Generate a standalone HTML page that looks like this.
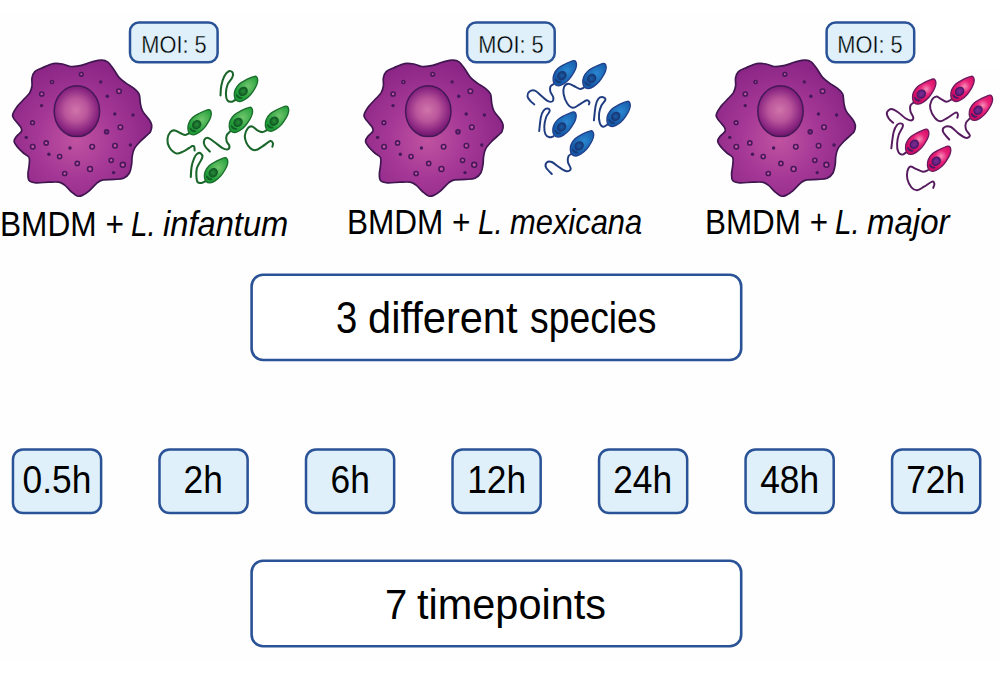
<!DOCTYPE html>
<html><head><meta charset="utf-8">
<style>
html,body{margin:0;padding:0;}
body{width:1000px;height:697px;position:relative;overflow:hidden;background:#fff;font-family:"Liberation Sans",sans-serif;color:#000;}
#bg{position:absolute;left:0;top:13px;width:1000px;height:647px;background:#fefefe;}
.c{position:absolute;white-space:nowrap;line-height:1;display:flex;justify-content:center;}
.c span{display:inline-block;}
.t{position:absolute;white-space:nowrap;line-height:1;transform-origin:0 0;}
svg{position:absolute;left:0;top:0;}
</style></head><body>
<div id="bg"></div>
<div style="position:absolute;left:920px;top:13px;width:80px;height:57px;background:#fff"></div>
<svg width="1000" height="697" style="position:absolute;left:0;top:0"><rect x="251.6" y="274.8" width="489.6" height="85.2" rx="11.5" fill="#fff" stroke="#2a5296" stroke-width="2.6"/><rect x="251.6" y="560.8" width="489.6" height="85.5" rx="11.5" fill="#fff" stroke="#2a5296" stroke-width="2.6"/><rect x="12.96" y="449.5" width="88.15" height="63.5" rx="10" fill="#DFF0FB" stroke="#2a5296" stroke-width="2.5"/><rect x="159.48" y="449.5" width="88.15" height="63.5" rx="10" fill="#DFF0FB" stroke="#2a5296" stroke-width="2.5"/><rect x="306.00" y="449.5" width="88.15" height="63.5" rx="10" fill="#DFF0FB" stroke="#2a5296" stroke-width="2.5"/><rect x="452.52" y="449.5" width="88.15" height="63.5" rx="10" fill="#DFF0FB" stroke="#2a5296" stroke-width="2.5"/><rect x="599.04" y="449.5" width="88.15" height="63.5" rx="10" fill="#DFF0FB" stroke="#2a5296" stroke-width="2.5"/><rect x="745.56" y="449.5" width="88.15" height="63.5" rx="10" fill="#DFF0FB" stroke="#2a5296" stroke-width="2.5"/><rect x="892.08" y="449.5" width="88.15" height="63.5" rx="10" fill="#DFF0FB" stroke="#2a5296" stroke-width="2.5"/><rect x="130.0" y="22.4" width="87.6" height="39.8" rx="9" fill="#DFF0FB" stroke="#2a5296" stroke-width="2.5"/><rect x="467.1" y="22.4" width="87.6" height="39.8" rx="9" fill="#DFF0FB" stroke="#2a5296" stroke-width="2.5"/><rect x="826.6" y="22.4" width="87.6" height="39.8" rx="9" fill="#DFF0FB" stroke="#2a5296" stroke-width="2.5"/></svg>
<svg width="1000" height="697" viewBox="0 0 1000 697" style="position:absolute;left:0;top:0">
<defs>
<radialGradient id="cyt" gradientUnits="userSpaceOnUse" cx="76" cy="140" r="78">
 <stop offset="0" stop-color="#c052a0"/><stop offset="0.5" stop-color="#a53896"/><stop offset="1" stop-color="#8c2686"/></radialGradient>
<radialGradient id="nuc" gradientUnits="userSpaceOnUse" cx="76" cy="110" r="25">
 <stop offset="0" stop-color="#d074aa"/><stop offset="0.45" stop-color="#b9569b"/><stop offset="0.85" stop-color="#8a2681"/><stop offset="1" stop-color="#741a70"/></radialGradient>
<radialGradient id="bg_g" gradientUnits="userSpaceOnUse" cx="5" cy="-5" r="13">
 <stop offset="0" stop-color="#70c66c"/><stop offset="1" stop-color="#1e9c38"/></radialGradient>
<radialGradient id="ng_g" gradientUnits="userSpaceOnUse" cx="0" cy="0" r="3.4">
 <stop offset="0" stop-color="#279038"/><stop offset="1" stop-color="#166528"/></radialGradient>
<radialGradient id="bg_b" gradientUnits="userSpaceOnUse" cx="5" cy="-5" r="13">
 <stop offset="0" stop-color="#2a86d0"/><stop offset="1" stop-color="#155aa8"/></radialGradient>
<radialGradient id="ng_b" gradientUnits="userSpaceOnUse" cx="0" cy="0" r="3.4">
 <stop offset="0" stop-color="#1a5ea8"/><stop offset="1" stop-color="#173f80"/></radialGradient>
<radialGradient id="bg_p" gradientUnits="userSpaceOnUse" cx="5" cy="-5" r="13">
 <stop offset="0" stop-color="#f58cb8"/><stop offset="0.45" stop-color="#e82278"/><stop offset="1" stop-color="#d20c64"/></radialGradient>
<radialGradient id="ng_p" gradientUnits="userSpaceOnUse" cx="0" cy="0" r="3.4">
 <stop offset="0" stop-color="#7e2a92"/><stop offset="1" stop-color="#62207e"/></radialGradient>
<g id="body_g"><path d="M13.36 -14.72 C13.84 -14.14 14.49 -12.73 14.61 -11.57 C14.72 -10.41 14.45 -9.09 14.03 -7.75 C13.62 -6.42 13.19 -5.37 12.12 -3.55 C11.06 -1.74 9.34 1.19 7.63 3.13 C5.93 5.08 3.69 6.94 1.90 8.10 C0.12 9.26 -1.55 10.01 -3.06 10.11 C-4.57 10.20 -6.21 9.66 -7.17 8.67 C-8.12 7.69 -8.66 5.89 -8.79 4.18 C-8.92 2.48 -8.76 0.38 -7.93 -1.54 C-7.10 -3.47 -5.61 -5.72 -3.83 -7.37 C-2.04 -9.03 0.58 -10.32 2.76 -11.48 C4.94 -12.64 7.76 -13.74 9.26 -14.34 C10.75 -14.95 11.06 -15.04 11.74 -15.11 C12.43 -15.17 12.89 -15.31 13.36 -14.72 Z" fill="url(#bg_g)" stroke="#1a6c2c" stroke-width="1.3"/><ellipse cx="0" cy="0" rx="4.3" ry="3.7" transform="rotate(-45)" fill="url(#ng_g)" stroke="#135d26" stroke-width="1.4"/><path d="M-6.6 3.4 Q-5.2 7.6 -1.4 6.4 Q-4.6 6.2 -6.6 3.4 Z" fill="#145e27" stroke="#145e27" stroke-width="1.35" stroke-linejoin="round"/></g><g id="body_b"><path d="M13.36 -14.72 C13.84 -14.14 14.49 -12.73 14.61 -11.57 C14.72 -10.41 14.45 -9.09 14.03 -7.75 C13.62 -6.42 13.19 -5.37 12.12 -3.55 C11.06 -1.74 9.34 1.19 7.63 3.13 C5.93 5.08 3.69 6.94 1.90 8.10 C0.12 9.26 -1.55 10.01 -3.06 10.11 C-4.57 10.20 -6.21 9.66 -7.17 8.67 C-8.12 7.69 -8.66 5.89 -8.79 4.18 C-8.92 2.48 -8.76 0.38 -7.93 -1.54 C-7.10 -3.47 -5.61 -5.72 -3.83 -7.37 C-2.04 -9.03 0.58 -10.32 2.76 -11.48 C4.94 -12.64 7.76 -13.74 9.26 -14.34 C10.75 -14.95 11.06 -15.04 11.74 -15.11 C12.43 -15.17 12.89 -15.31 13.36 -14.72 Z" fill="url(#bg_b)" stroke="#22408a" stroke-width="1.3"/><ellipse cx="0" cy="0" rx="4.3" ry="3.7" transform="rotate(-45)" fill="url(#ng_b)" stroke="#1a3a78" stroke-width="1.4"/><path d="M-6.6 3.4 Q-5.2 7.6 -1.4 6.4 Q-4.6 6.2 -6.6 3.4 Z" fill="#1a3a78" stroke="#1a3a78" stroke-width="1.35" stroke-linejoin="round"/></g><g id="body_p"><path d="M13.36 -14.72 C13.84 -14.14 14.49 -12.73 14.61 -11.57 C14.72 -10.41 14.45 -9.09 14.03 -7.75 C13.62 -6.42 13.19 -5.37 12.12 -3.55 C11.06 -1.74 9.34 1.19 7.63 3.13 C5.93 5.08 3.69 6.94 1.90 8.10 C0.12 9.26 -1.55 10.01 -3.06 10.11 C-4.57 10.20 -6.21 9.66 -7.17 8.67 C-8.12 7.69 -8.66 5.89 -8.79 4.18 C-8.92 2.48 -8.76 0.38 -7.93 -1.54 C-7.10 -3.47 -5.61 -5.72 -3.83 -7.37 C-2.04 -9.03 0.58 -10.32 2.76 -11.48 C4.94 -12.64 7.76 -13.74 9.26 -14.34 C10.75 -14.95 11.06 -15.04 11.74 -15.11 C12.43 -15.17 12.89 -15.31 13.36 -14.72 Z" fill="url(#bg_p)" stroke="#6a1a5e" stroke-width="1.3"/><ellipse cx="0" cy="0" rx="4.3" ry="3.7" transform="rotate(-45)" fill="url(#ng_p)" stroke="#4a1a6a" stroke-width="1.4"/><path d="M-6.6 3.4 Q-5.2 7.6 -1.4 6.4 Q-4.6 6.2 -6.6 3.4 Z" fill="#4a1a6a" stroke="#4a1a6a" stroke-width="1.35" stroke-linejoin="round"/></g>
<g id="mac"><path d="M32.00 78.00 C32.47 75.60 32.98 73.33 34.80 71.60 C36.62 69.87 39.83 68.93 42.90 67.60 C45.97 66.27 49.95 64.20 53.20 63.60 C56.45 63.00 59.53 63.52 62.40 64.00 C65.27 64.48 67.72 66.18 70.40 66.50 C73.08 66.82 75.75 66.38 78.50 65.90 C81.25 65.42 84.35 64.37 86.90 63.60 C89.45 62.83 91.32 61.87 93.80 61.30 C96.28 60.73 99.52 60.10 101.80 60.20 C104.08 60.30 105.58 60.47 107.50 61.90 C109.42 63.33 111.38 66.22 113.30 68.80 C115.22 71.38 116.90 75.02 119.00 77.40 C121.10 79.78 123.42 81.28 125.90 83.10 C128.38 84.92 131.70 86.48 133.90 88.30 C136.10 90.12 138.03 91.52 139.10 94.00 C140.17 96.48 139.72 100.33 140.30 103.20 C140.88 106.07 141.17 108.52 142.60 111.20 C144.03 113.88 147.38 117.00 148.90 119.30 C150.42 121.60 151.42 122.97 151.70 125.00 C151.98 127.03 151.27 129.90 150.60 131.50 C149.93 133.10 149.33 133.03 147.70 134.60 C146.07 136.17 143.00 138.60 140.80 140.90 C138.60 143.20 135.93 145.82 134.50 148.40 C133.07 150.98 132.68 153.73 132.20 156.40 C131.72 159.07 132.07 161.63 131.60 164.40 C131.13 167.17 130.73 170.70 129.40 173.00 C128.07 175.30 126.10 177.13 123.60 178.20 C121.10 179.27 117.83 179.12 114.40 179.40 C110.97 179.68 105.87 179.33 103.00 179.90 C100.13 180.47 99.50 180.98 97.20 182.80 C94.90 184.62 91.68 188.70 89.20 190.80 C86.72 192.90 84.28 194.53 82.30 195.40 C80.32 196.27 79.08 196.57 77.30 196.00 C75.52 195.43 73.70 193.82 71.60 192.00 C69.50 190.18 66.82 186.73 64.70 185.10 C62.58 183.47 61.58 182.68 58.90 182.20 C56.22 181.72 52.42 182.10 48.60 182.20 C44.78 182.30 39.25 183.08 36.00 182.80 C32.75 182.52 30.43 182.03 29.10 180.50 C27.77 178.97 28.00 176.08 28.00 173.60 C28.00 171.12 28.92 168.28 29.10 165.60 C29.28 162.92 30.05 159.60 29.10 157.50 C28.15 155.40 25.32 154.72 23.40 153.00 C21.48 151.28 19.15 149.15 17.60 147.20 C16.05 145.25 14.23 143.17 14.10 141.30 C13.97 139.43 15.58 137.63 16.80 136.00 C18.02 134.37 20.70 132.90 21.40 131.50 C22.10 130.10 21.70 129.05 21.00 127.60 C20.30 126.15 18.60 124.80 17.20 122.80 C15.80 120.80 12.60 118.30 12.60 115.60 C12.60 112.90 15.40 109.23 17.20 106.60 C19.00 103.97 21.32 102.08 23.40 99.80 C25.48 97.52 28.27 95.20 29.70 92.90 C31.13 90.60 31.62 88.48 32.00 86.00 C32.38 83.52 31.53 80.40 32.00 78.00 Z" fill="url(#cyt)" stroke="#3f1650" stroke-width="1.7"/>
<ellipse cx="76.9" cy="111.2" rx="22.7" ry="25.4" fill="url(#nuc)" stroke="#441858" stroke-width="1.5"/>
<circle cx="52.0" cy="82.0" r="1.55" fill="#c651a3" stroke="#46195a" stroke-width="1.6"/>
<circle cx="41.7" cy="94.0" r="2.05" fill="#c651a3" stroke="#46195a" stroke-width="1.6"/>
<circle cx="32.5" cy="122.7" r="1.85" fill="#c651a3" stroke="#46195a" stroke-width="1.6"/>
<circle cx="81.3" cy="74.3" r="1.85" fill="#c651a3" stroke="#46195a" stroke-width="1.6"/>
<circle cx="119.0" cy="91.2" r="2.25" fill="#c651a3" stroke="#46195a" stroke-width="1.6"/>
<circle cx="120.4" cy="127.2" r="2.25" fill="#c651a3" stroke="#46195a" stroke-width="1.6"/>
<circle cx="92.2" cy="146.8" r="2.25" fill="#c651a3" stroke="#46195a" stroke-width="1.6"/>
<circle cx="115.0" cy="145.8" r="2.25" fill="#c651a3" stroke="#46195a" stroke-width="1.6"/>
<circle cx="111.2" cy="160.3" r="2.05" fill="#c651a3" stroke="#46195a" stroke-width="1.6"/>
<circle cx="122.8" cy="164.8" r="2.45" fill="#c651a3" stroke="#46195a" stroke-width="1.6"/>
<circle cx="90.0" cy="169.0" r="2.45" fill="#c651a3" stroke="#46195a" stroke-width="1.6"/>
<circle cx="32.7" cy="146.8" r="2.25" fill="#c651a3" stroke="#46195a" stroke-width="1.6"/>
<circle cx="46.2" cy="142.9" r="2.05" fill="#c651a3" stroke="#46195a" stroke-width="1.6"/>
<circle cx="59.6" cy="156.6" r="2.05" fill="#c651a3" stroke="#46195a" stroke-width="1.6"/>
<circle cx="77.3" cy="163.4" r="2.05" fill="#c651a3" stroke="#46195a" stroke-width="1.6"/>
<circle cx="64.7" cy="173.5" r="2.05" fill="#c651a3" stroke="#46195a" stroke-width="1.6"/>
<circle cx="106.6" cy="131.8" r="2.0" fill="#7a2a7e" stroke="#46195a" stroke-width="1.6"/>
<circle cx="41.6" cy="105.6" r="1.7" fill="#44185a"/>
<circle cx="100.7" cy="81.9" r="1.7" fill="#44185a"/>
<circle cx="107.3" cy="96.3" r="1.7" fill="#44185a"/>
<circle cx="114.8" cy="114.0" r="1.7" fill="#44185a"/>
<circle cx="133.0" cy="115.0" r="1.7" fill="#44185a"/>
<circle cx="130.4" cy="145.0" r="1.7" fill="#44185a"/>
<circle cx="113.6" cy="172.6" r="1.7" fill="#44185a"/>
<circle cx="26.2" cy="137.4" r="1.7" fill="#44185a"/>
<circle cx="48.9" cy="154.3" r="1.7" fill="#44185a"/>
<circle cx="70.0" cy="148.0" r="1.7" fill="#44185a"/></g>
</defs>
<use href="#mac"/>
<use href="#mac" transform="translate(351.4 0)"/>
<use href="#mac" transform="translate(703.6 0)"/>
<path d="M236.20 99.40 C235.53 99.78 233.63 101.50 232.20 101.70 C230.77 101.90 228.65 101.93 227.60 100.60 C226.55 99.27 225.90 96.38 225.90 93.70 C225.90 91.02 226.55 87.18 227.60 84.50 C228.65 81.82 231.33 79.52 232.20 77.60 C233.07 75.68 233.37 74.05 232.80 73.00 C232.23 71.95 230.23 70.72 228.80 71.30 C227.37 71.88 225.45 74.10 224.20 76.50 C222.95 78.90 221.92 82.55 221.30 85.70 C220.68 88.85 220.63 93.78 220.50 95.40" fill="none" stroke="#19652a" stroke-width="2.05" stroke-linecap="round"/>
<path d="M189.30 133.30 C188.63 133.58 186.73 135.00 185.30 135.00 C183.87 135.00 182.43 134.07 180.70 133.30 C178.97 132.53 176.63 130.60 174.90 130.40 C173.17 130.20 171.53 130.67 170.30 132.10 C169.07 133.53 167.68 136.50 167.50 139.00 C167.32 141.50 167.77 144.70 169.20 147.10 C170.63 149.50 173.80 152.65 176.10 153.40 C178.40 154.15 180.82 152.50 183.00 151.60 C185.18 150.70 187.65 148.92 189.20 148.00 C190.75 147.08 191.47 146.33 192.30 146.10 C193.13 145.87 193.82 145.87 194.20 146.60 C194.58 147.33 194.53 149.85 194.60 150.50" fill="none" stroke="#19652a" stroke-width="2.05" stroke-linecap="round"/>
<path d="M230.00 131.60 C229.43 132.27 227.17 133.98 226.60 135.60 C226.03 137.22 226.13 139.58 226.60 141.30 C227.07 143.02 229.22 144.55 229.40 145.90 C229.58 147.25 228.83 149.02 227.70 149.40 C226.57 149.78 224.70 149.35 222.60 148.20 C220.50 147.05 217.50 144.22 215.10 142.50 C212.70 140.78 210.02 138.28 208.20 137.90 C206.38 137.52 204.77 138.87 204.20 140.20 C203.63 141.53 203.85 144.00 204.80 145.90 C205.75 147.80 209.05 150.65 209.90 151.60" fill="none" stroke="#19652a" stroke-width="2.05" stroke-linecap="round"/>
<path d="M267.30 129.90 C266.50 130.27 264.15 132.03 262.50 132.10 C260.85 132.17 259.12 131.23 257.40 130.30 C255.68 129.37 253.78 126.85 252.20 126.50 C250.62 126.15 249.12 126.70 247.90 128.20 C246.68 129.70 245.18 133.13 244.90 135.50 C244.62 137.87 245.27 140.25 246.20 142.40 C247.13 144.55 248.92 147.12 250.50 148.40 C252.08 149.68 253.70 150.45 255.70 150.10 C257.70 149.75 260.07 147.80 262.50 146.30 C264.93 144.80 268.57 141.62 270.30 141.10 C272.03 140.58 272.55 142.27 272.90 143.20 C273.25 144.13 272.48 146.12 272.40 146.70" fill="none" stroke="#19652a" stroke-width="2.05" stroke-linecap="round"/>
<path d="M205.40 181.30 C204.75 181.58 202.80 182.85 201.50 183.00 C200.20 183.15 198.45 183.33 197.60 182.20 C196.75 181.07 196.53 178.50 196.40 176.20 C196.27 173.90 196.23 170.70 196.80 168.40 C197.37 166.10 198.87 164.27 199.80 162.40 C200.73 160.53 202.25 158.72 202.40 157.20 C202.55 155.68 201.57 153.87 200.70 153.30 C199.83 152.73 198.28 153.00 197.20 153.80 C196.12 154.60 195.13 155.95 194.20 158.10 C193.27 160.25 192.17 163.55 191.60 166.70 C191.03 169.85 190.93 175.28 190.80 177.00" fill="none" stroke="#19652a" stroke-width="2.05" stroke-linecap="round"/>
<g transform="translate(243.1 91.4)"><use href="#body_g"/></g>
<g transform="translate(196.7 124.7)"><use href="#body_g"/></g>
<g transform="translate(238.0 122.4)"><use href="#body_g"/></g>
<g transform="translate(274.1 121.2)"><use href="#body_g"/></g>
<g transform="translate(213.2 172.8)"><use href="#body_g"/></g>
<path d="M553.30 84.30 C552.82 84.68 550.88 85.37 550.40 86.60 C549.92 87.83 549.92 89.88 550.40 91.70 C550.88 93.52 553.02 95.87 553.30 97.50 C553.58 99.13 553.07 100.93 552.10 101.50 C551.13 102.07 549.22 101.77 547.50 100.90 C545.78 100.03 543.90 98.02 541.80 96.30 C539.70 94.58 537.00 91.37 534.90 90.60 C532.80 89.83 530.43 90.75 529.20 91.70 C527.97 92.65 527.32 94.77 527.50 96.30 C527.68 97.83 529.17 99.55 530.30 100.90 C531.43 102.25 533.63 103.82 534.30 104.40" fill="none" stroke="#203c80" stroke-width="1.95" stroke-linecap="round"/>
<path d="M583.70 87.70 C583.03 87.90 581.33 89.18 579.70 88.90 C578.07 88.62 575.82 86.87 573.90 86.00 C571.98 85.13 569.82 83.60 568.20 83.70 C566.58 83.80 564.97 84.88 564.20 86.60 C563.43 88.32 563.12 91.23 563.60 94.00 C564.08 96.77 565.57 100.90 567.10 103.20 C568.63 105.50 570.70 107.60 572.80 107.80 C574.90 108.00 577.40 105.65 579.70 104.40 C582.00 103.15 584.98 100.68 586.60 100.30 C588.22 99.92 589.02 101.42 589.40 102.10 C589.78 102.78 588.98 104.02 588.90 104.40" fill="none" stroke="#203c80" stroke-width="1.95" stroke-linecap="round"/>
<path d="M553.50 136.20 C552.83 136.38 550.83 137.60 549.50 137.30 C548.17 137.00 546.37 136.22 545.50 134.40 C544.63 132.58 544.20 129.27 544.30 126.40 C544.40 123.53 545.23 119.68 546.10 117.20 C546.97 114.72 549.12 112.93 549.50 111.50 C549.88 110.07 549.35 108.80 548.40 108.60 C547.45 108.40 545.05 108.87 543.80 110.30 C542.55 111.73 541.67 113.75 540.90 117.20 C540.13 120.65 539.48 128.70 539.20 131.00" fill="none" stroke="#203c80" stroke-width="1.95" stroke-linecap="round"/>
<path d="M571.30 153.90 C570.83 154.28 569.07 154.85 568.50 156.20 C567.93 157.55 567.53 159.88 567.90 162.00 C568.27 164.12 570.90 167.37 570.70 168.90 C570.50 170.43 568.52 171.40 566.70 171.20 C564.88 171.00 562.28 169.23 559.80 167.70 C557.32 166.17 554.00 162.85 551.80 162.00 C549.60 161.15 547.55 161.65 546.60 162.60 C545.65 163.55 545.23 165.80 546.10 167.70 C546.97 169.60 550.85 172.95 551.80 174.00" fill="none" stroke="#203c80" stroke-width="1.95" stroke-linecap="round"/>
<path d="M607.70 124.40 C606.93 124.78 604.43 126.98 603.10 126.70 C601.77 126.42 600.37 124.90 599.70 122.70 C599.03 120.50 598.82 116.37 599.10 113.50 C599.38 110.63 600.35 107.78 601.40 105.50 C602.45 103.22 605.12 101.18 605.40 99.80 C605.68 98.42 604.25 97.40 603.10 97.20 C601.95 97.00 599.73 97.22 598.50 98.60 C597.27 99.98 596.47 101.87 595.70 105.50 C594.93 109.13 594.20 117.92 593.90 120.40" fill="none" stroke="#203c80" stroke-width="1.95" stroke-linecap="round"/>
<g transform="translate(561.9 75.7)"><use href="#body_b"/></g>
<g transform="translate(591.6 78.5)"><use href="#body_b"/></g>
<g transform="translate(561.6 127.0)"><use href="#body_b"/></g>
<g transform="translate(579.1 145.9)"><use href="#body_b"/></g>
<g transform="translate(615.7 116.4)"><use href="#body_b"/></g>
<path d="M913.30 102.70 C912.82 103.18 910.88 104.17 910.40 105.60 C909.92 107.03 909.92 109.30 910.40 111.30 C910.88 113.30 913.20 116.07 913.30 117.60 C913.40 119.13 912.33 120.40 911.00 120.50 C909.67 120.60 907.40 119.53 905.30 118.20 C903.20 116.87 900.70 114.03 898.40 112.50 C896.10 110.97 893.42 109.00 891.50 109.00 C889.58 109.00 887.38 110.97 886.90 112.50 C886.42 114.03 887.55 116.48 888.60 118.20 C889.65 119.92 892.43 122.03 893.20 122.80" fill="none" stroke="#561b5e" stroke-width="1.95" stroke-linecap="round"/>
<path d="M951.60 99.40 C950.73 99.78 948.22 101.78 946.40 101.70 C944.58 101.62 942.42 99.75 940.70 98.90 C938.98 98.05 937.63 96.32 936.10 96.60 C934.57 96.88 932.47 98.60 931.50 100.60 C930.53 102.60 929.73 105.73 930.30 108.60 C930.87 111.47 933.17 115.70 934.90 117.80 C936.63 119.90 938.60 121.20 940.70 121.20 C942.80 121.20 945.02 119.23 947.50 117.80 C949.98 116.37 953.87 113.17 955.60 112.60 C957.33 112.03 957.62 113.53 957.90 114.40 C958.18 115.27 957.40 117.23 957.30 117.80" fill="none" stroke="#561b5e" stroke-width="1.95" stroke-linecap="round"/>
<path d="M906.20 152.30 C905.53 152.68 903.53 154.70 902.20 154.60 C900.87 154.50 899.05 153.52 898.20 151.70 C897.35 149.88 897.00 146.57 897.10 143.70 C897.20 140.83 897.85 137.37 898.80 134.50 C899.75 131.63 902.33 128.32 902.80 126.50 C903.27 124.68 902.55 123.88 901.60 123.60 C900.65 123.32 898.43 123.37 897.10 124.80 C895.77 126.23 894.57 128.28 893.60 132.20 C892.63 136.12 891.68 145.62 891.30 148.30" fill="none" stroke="#561b5e" stroke-width="1.95" stroke-linecap="round"/>
<path d="M969.40 118.90 C968.82 119.58 966.48 121.27 965.90 123.00 C965.32 124.73 965.23 127.20 965.90 129.30 C966.57 131.40 969.90 134.17 969.90 135.60 C969.90 137.03 967.72 138.18 965.90 137.90 C964.08 137.62 961.48 135.72 959.00 133.90 C956.52 132.08 953.38 128.15 951.00 127.00 C948.62 125.85 946.03 126.23 944.70 127.00 C943.37 127.77 942.23 129.50 943.00 131.60 C943.77 133.70 948.25 138.27 949.30 139.60" fill="none" stroke="#561b5e" stroke-width="1.95" stroke-linecap="round"/>
<path d="M928.00 170.10 C927.15 170.38 924.90 172.00 922.90 171.80 C920.90 171.60 918.10 169.77 916.00 168.90 C913.90 168.03 911.73 166.22 910.30 166.60 C908.87 166.98 907.88 169.08 907.40 171.20 C906.92 173.32 906.73 176.62 907.40 179.30 C908.07 181.98 909.78 185.48 911.40 187.30 C913.02 189.12 915.00 190.30 917.10 190.20 C919.20 190.10 921.50 188.13 924.00 186.70 C926.50 185.27 930.37 182.07 932.10 181.60 C933.83 181.13 934.22 182.85 934.40 183.90 C934.58 184.95 933.40 187.23 933.20 187.90" fill="none" stroke="#561b5e" stroke-width="1.95" stroke-linecap="round"/>
<g transform="translate(921.3 94.1)"><use href="#body_p"/></g>
<g transform="translate(959.6 91.4)"><use href="#body_p"/></g>
<g transform="translate(914.3 144.3)"><use href="#body_p"/></g>
<g transform="translate(978.0 110.3)"><use href="#body_p"/></g>
<g transform="translate(936.2 161.2)"><use href="#body_p"/></g>
</svg>

<div class="c" style="left:12.96px;width:88.15px;top:460.5px;font-size:38px;"><span style="transform:scaleX(0.93)">0.5h</span></div>
<div class="c" style="left:159.48px;width:88.15px;top:460.5px;font-size:38px;"><span style="transform:scaleX(0.93)">2h</span></div>
<div class="c" style="left:306.00px;width:88.15px;top:460.5px;font-size:38px;"><span style="transform:scaleX(0.93)">6h</span></div>
<div class="c" style="left:452.52px;width:88.15px;top:460.5px;font-size:38px;"><span style="transform:scaleX(0.93)">12h</span></div>
<div class="c" style="left:599.04px;width:88.15px;top:460.5px;font-size:38px;"><span style="transform:scaleX(0.93)">24h</span></div>
<div class="c" style="left:745.56px;width:88.15px;top:460.5px;font-size:38px;"><span style="transform:scaleX(0.93)">48h</span></div>
<div class="c" style="left:892.08px;width:88.15px;top:460.5px;font-size:38px;"><span style="transform:scaleX(0.93)">72h</span></div>

<div class="c" style="left:130px;width:87.6px;top:33px;font-size:24px;"><span style="transform:scaleX(0.908);-webkit-text-stroke:0.35px #DFF0FB">MOI: 5</span></div>
<div class="c" style="left:467.1px;width:87.6px;top:33px;font-size:24px;"><span style="transform:scaleX(0.908);-webkit-text-stroke:0.35px #DFF0FB">MOI: 5</span></div>
<div class="c" style="left:826.6px;width:87.6px;top:33px;font-size:24px;"><span style="transform:scaleX(0.908);-webkit-text-stroke:0.35px #DFF0FB">MOI: 5</span></div>


<div class="t" style="left:0.21px;top:206.60px;font-size:34.5px;transform:scaleX(0.9168)">BMDM +</div>
<div class="t" style="left:131.34px;top:206.60px;font-size:34.5px;font-style:italic;transform:scaleX(0.8600)">L.</div>
<div class="t" style="left:163.04px;top:206.60px;font-size:34.5px;font-style:italic;transform:scaleX(0.9470)">infantum</div>
<div class="t" style="left:346.62px;top:204.70px;font-size:34.5px;transform:scaleX(0.9137)">BMDM +</div>
<div class="t" style="left:477.59px;top:204.70px;font-size:34.5px;font-style:italic;transform:scaleX(0.8600)">L.</div>
<div class="t" style="left:509.59px;top:204.70px;font-size:34.5px;font-style:italic;transform:scaleX(0.8952)">mexicana</div>
<div class="t" style="left:704.63px;top:205.20px;font-size:34.5px;transform:scaleX(0.9099)">BMDM +</div>
<div class="t" style="left:835.34px;top:205.20px;font-size:34.5px;font-style:italic;transform:scaleX(0.8600)">L.</div>
<div class="t" style="left:866.53px;top:205.20px;font-size:34.5px;font-style:italic;transform:scaleX(0.9565)">major</div>
<div class="t" style="left:335.62px;top:296.00px;font-size:44px;transform:scaleX(0.8700)">3</div>
<div class="t" style="left:368.11px;top:296.00px;font-size:44px;transform:scaleX(0.9455)">different</div>
<div class="t" style="left:530.15px;top:296.00px;font-size:44px;transform:scaleX(0.8476)">species</div>
<div class="t" style="left:385.34px;top:582.50px;font-size:43px;transform:scaleX(0.9300)">7</div>
<div class="t" style="left:417.44px;top:582.50px;font-size:43px;transform:scaleX(0.9644)">timepoints</div>
</body></html>
